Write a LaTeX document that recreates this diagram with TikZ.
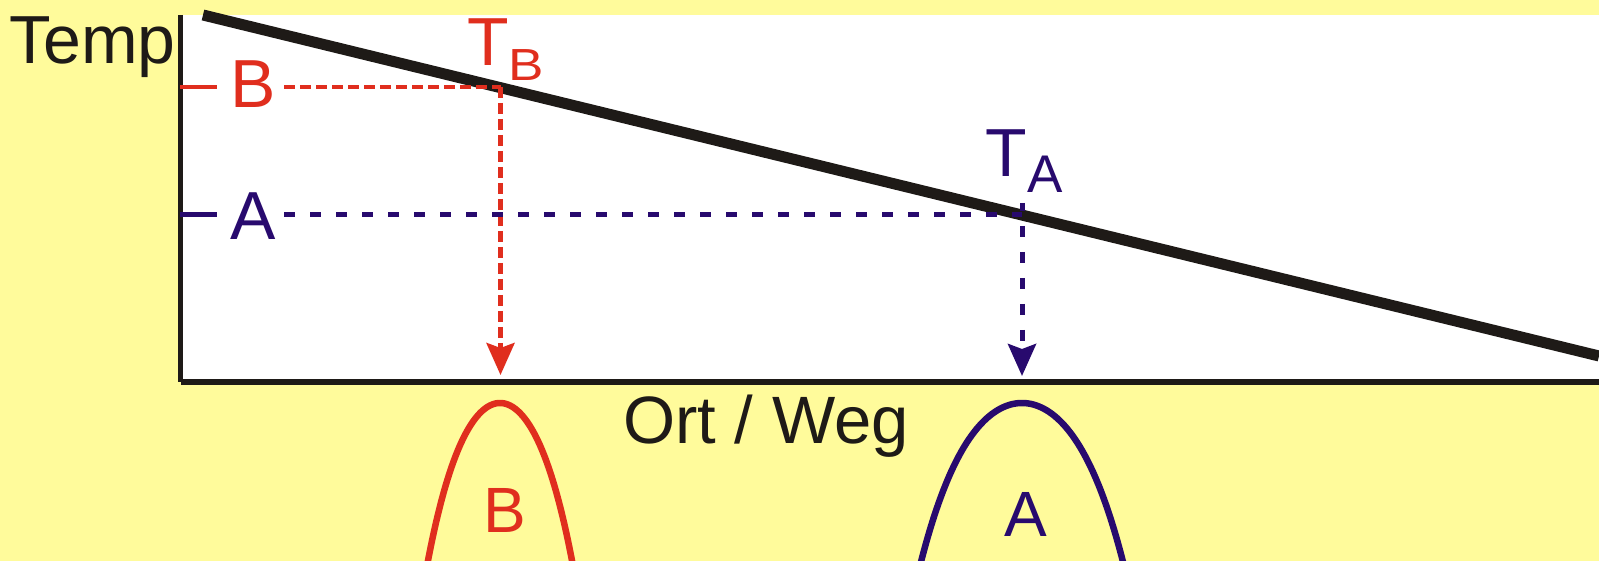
\documentclass[tikz,border=0pt]{standalone}
\usepackage{fontspec}
\setmainfont{Liberation Sans}
\usetikzlibrary{arrows.meta}
\definecolor{bgyel}{RGB}{255,251,155}
\definecolor{myred}{RGB}{224,46,30}
\definecolor{myblue}{RGB}{40,10,110}
\definecolor{myblack}{RGB}{30,26,23}
\tikzset{
  lbl/.style={inner sep=0pt, anchor=base, font=\fontsize{68}{68}\selectfont},
  sublbl/.style={inner sep=0pt, anchor=base, font=\fontsize{53}{53}\selectfont},
  reddash/.style={myred, line width=4.7pt, dash pattern=on 11pt off 5pt},
  bluedash/.style={myblue, line width=5pt, dash pattern=on 11pt off 15pt},
  tip/.style={-{Stealth[length=32pt, width=28pt, inset=5pt]}},
  bell/.style={line width=6.5pt},
}
\begin{document}
\begin{tikzpicture}[x=1pt, y=-1pt]
  \useasboundingbox (0,0) rectangle (1599,561);
  \fill[bgyel] (0,0) rectangle (1599,561);
  \fill[white] (180,15) rectangle (1599,382);
  % axes
  \coordinate (ytop) at (180.5,15);
  \coordinate (orig) at (180.5,382);
  \coordinate (xend) at (1599,382);
  \draw[myblack, line width=5pt] (ytop) -- (orig);
  \draw[myblack, line width=6pt] (orig) -- (xend);
  % diagonal temperature line
  \coordinate (d1) at (203,15);
  \coordinate (d2) at (1599,356);
  \draw[myblack, line width=11pt] (d1) -- (d2);
  % labels
  \node[lbl, myblack] (temp) at (92.5,64) {Temp};
  \node[lbl, myblack, font=\fontsize{67}{67}\selectfont] (ort) at (766,443) {Ort / Weg};
  \node[lbl, myred] (bl) at (253.5,108) {B};
  \node[lbl, myblue] (al) at (253.5,240) {A};
  \node[lbl, myred] (tb) at (488,66) {T};
  \node[sublbl, myred, font=\fontsize{45}{45}\selectfont, xscale=1.18] (tbs) at (526.5,81) {B};
  \node[lbl, myblue] (ta) at (1006.5,177) {T};
  \node[sublbl, myblue] (tas) at (1045,193) {A};
  \node[lbl, myred, font=\fontsize{64}{64}\selectfont] (bb) at (505,532) {B};
  \node[lbl, myblue, font=\fontsize{64}{64}\selectfont] (ab) at (1026,536) {A};
  % ticks
  \coordinate (tB1) at (180,87);
  \coordinate (tB2) at (217,87);
  \coordinate (tA1) at (180,215);
  \coordinate (tA2) at (217,215);
  \draw[myred, line width=4.5pt] (tB1) -- (tB2);
  \draw[myblue, line width=5pt] (tA1) -- (tA2);
  % dashed guides
  \coordinate (bs) at (284,87);
  \coordinate (pB) at (500.5,87);
  \coordinate (bt) at (500.5,375);
  \coordinate (as) at (284,215);
  \coordinate (pA) at (1022,215);
  \coordinate (at2) at (1022,376);
  \draw[reddash] (bs) -- (pB);
  \draw[reddash, tip] (pB) -- (bt);
  \draw[bluedash] (as) -- (pA);
  \draw[bluedash, dash phase=3pt, tip] ([yshift=12pt]pA) -- (at2);
  % bell curves
  \draw[myred, bell] plot[domain=-0.73:0.73, samples=80]
     ({500+100*\x},{403+246.8*\x*\x+110.3*\x*\x*\x*\x});
  \draw[myblue, bell] plot[domain=-1.02:1.02, samples=80]
     ({1022+100*\x},{403+118.5*\x*\x+36.5*\x*\x*\x*\x});
\end{tikzpicture}
\end{document}
